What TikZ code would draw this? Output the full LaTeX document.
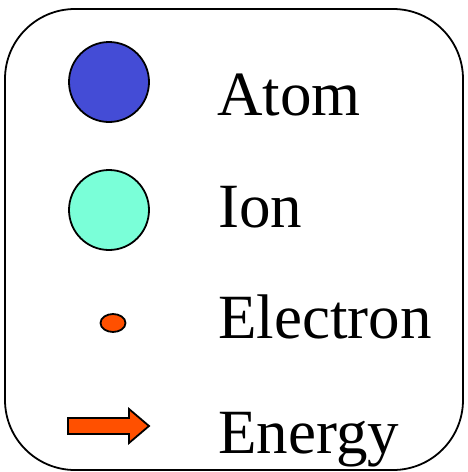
\documentclass[tikz,border=0pt]{standalone}
\usepackage{fontspec}
\setmainfont{Liberation Serif}
\usetikzlibrary{shapes.geometric}
\definecolor{atomblue}{RGB}{68,76,214}
\definecolor{ioncyan}{RGB}{122,255,216}
\definecolor{elorange}{RGB}{255,80,0}
\begin{document}
\begin{tikzpicture}[x=1pt,y=-1pt,
  outl/.style={draw=black,line width=1.8pt},
  lbl/.style={anchor=base west,inner sep=0pt,font=\fontsize{63}{70}\selectfont}]
\useasboundingbox (0,0) rectangle (467,472);
\draw[outl,rounded corners=70pt] (5,9) rectangle (463,470);
\node[outl,circle,fill=atomblue,minimum size=80pt,inner sep=0pt] (atom) at (109,82) {};
\node[outl,circle,fill=ioncyan,minimum size=80pt,inner sep=0pt] (ion) at (109,210) {};
\node[outl,ellipse,fill=elorange,minimum width=25pt,minimum height=18pt,inner sep=0pt] (el) at (113,323) {};
\draw[outl,fill=elorange,line join=miter] (68,418) -- (129,418) -- (129,409) -- (149,426) -- (129,443) -- (129,434) -- (68,434) -- cycle;
\node[lbl] (tatom) at (217,115) {Atom};
\node[lbl] (tion) at (218,227) {Ion};
\node[lbl] (tel) at (218,338) {Electron};
\node[lbl] (ten) at (218,453) {Energy};
\end{tikzpicture}
\end{document}
